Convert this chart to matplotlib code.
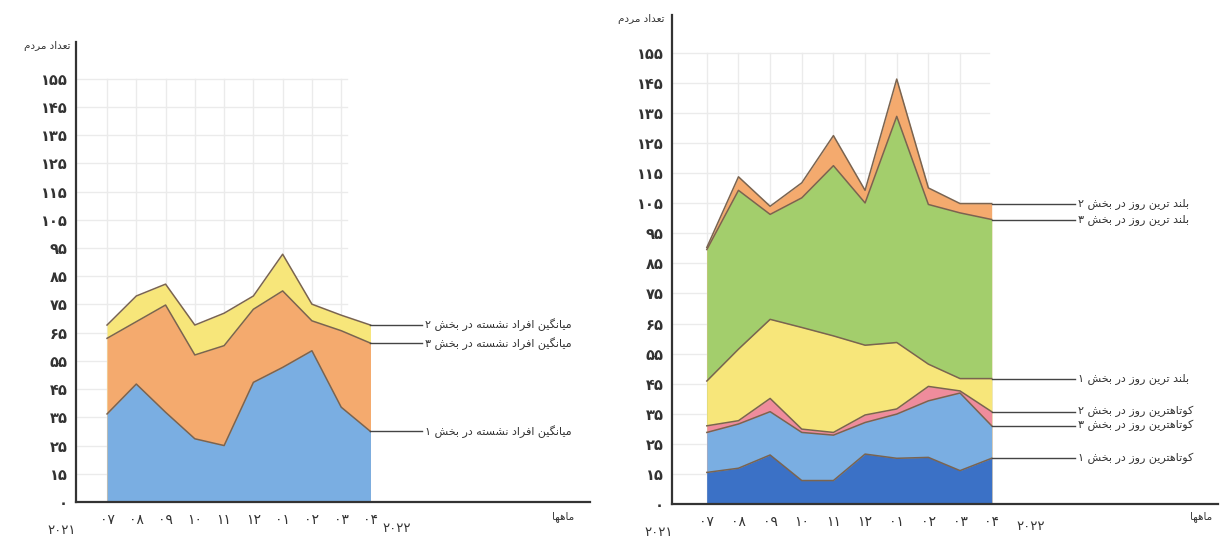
import matplotlib
matplotlib.use('Agg')
import matplotlib.pyplot as plt

# ---------------- data ----------------
months = ['۰۷', '۰۸', '۰۹', '۱۰', '۱۱', '۱۲', '۰۱', '۰۲', '۰۳', '۰۴']
y_ticks = [5, 15, 25, 35, 45, 55, 65, 75, 85, 95, 105, 115, 125, 135, 145, 155]
y_tick_labels = ['۰', '۱۵', '۲۵', '۳۵', '۴۵', '۵۵', '۶۵', '۷۵', '۸۵', '۹۵',
                 '۱۰۵', '۱۱۵', '۱۲۵', '۱۳۵', '۱۴۵', '۱۵۵']
year_start = '۲۰۲۱'
year_end = '۲۰۲۲'
y_title = 'تعداد مردم'
x_title = 'ماهها'

left_sec2 = [67.7, 78.0, 82.2, 67.7, 71.9, 78.0, 92.8, 75.1, 71.2, 67.7]
left_sec3 = [63.0, 68.9, 74.8, 57.1, 60.4, 73.3, 79.8, 69.2, 65.7, 61.3]
left_sec1 = [36.2, 46.8, 36.8, 27.4, 25.0, 47.4, 52.7, 58.6, 38.6, 30.0]
left_labels = ['میانگین افراد نشسته در بخش ۲',
               'میانگین افراد نشسته در بخش ۳',
               'میانگین افراد نشسته در بخش ۱']

right_long2 = [90.3, 113.8, 104.0, 111.8, 127.5, 109.3, 146.3, 110.1, 104.9, 104.9]
right_long3 = [89.6, 109.3, 101.3, 106.8, 117.5, 105.1, 133.9, 104.6, 101.8, 99.6]
right_long1 = [45.9, 56.5, 66.4, 63.7, 60.9, 57.8, 58.7, 51.5, 46.7, 46.7]
right_short2 = [31.0, 32.7, 40.1, 29.9, 28.8, 34.6, 36.6, 44.1, 42.6, 35.7]
right_short3 = [28.8, 31.6, 35.7, 28.8, 27.9, 32.1, 34.9, 39.3, 41.9, 31.0]
right_short1 = [15.5, 16.9, 21.3, 12.8, 12.8, 21.6, 20.2, 20.5, 16.1, 20.2]
right_labels = ['بلند ترین روز در بخش ۲',
                'بلند ترین روز در بخش ۳',
                'بلند ترین روز در بخش ۱',
                'کوتاهترین روز در بخش ۲',
                'کوتاهترین روز در بخش ۳',
                'کوتاهترین روز در بخش ۱']

# ---------------- simple Persian shaping (matplotlib has no complex text layout) --------
FORMS = {
    'ا': ('\uFE8D', '\uFE8E', None, None),
    'ب': ('\uFE8F', '\uFE90', '\uFE91', '\uFE92'),
    'ت': ('\uFE95', '\uFE96', '\uFE97', '\uFE98'),
    'خ': ('\uFEA5', '\uFEA6', '\uFEA7', '\uFEA8'),
    'د': ('\uFEA9', '\uFEAA', None, None),
    'ر': ('\uFEAD', '\uFEAE', None, None),
    'ز': ('\uFEAF', '\uFEB0', None, None),
    'س': ('\uFEB1', '\uFEB2', '\uFEB3', '\uFEB4'),
    'ش': ('\uFEB5', '\uFEB6', '\uFEB7', '\uFEB8'),
    'ع': ('\uFEC9', '\uFECA', '\uFECB', '\uFECC'),
    'ف': ('\uFED1', '\uFED2', '\uFED3', '\uFED4'),
    'ل': ('\uFEDD', '\uFEDE', '\uFEDF', '\uFEE0'),
    'م': ('\uFEE1', '\uFEE2', '\uFEE3', '\uFEE4'),
    'ن': ('\uFEE5', '\uFEE6', '\uFEE7', '\uFEE8'),
    'و': ('\uFEED', '\uFEEE', None, None),
    'ه': ('\uFEE9', '\uFEEA', '\uFEEB', '\uFEEC'),
    'ی': ('\uFBFC', '\uFBFD', '\uFBFE', '\uFBFF'),
    'ک': ('\uFB8E', '\uFB8F', '\uFB90', '\uFB91'),
    'گ': ('\uFB92', '\uFB93', '\uFB94', '\uFB95'),
}


def fa(text):
    out = []
    n = len(text)
    for i, c in enumerate(text):
        if c not in FORMS:
            out.append(c)
            continue
        f = FORMS[c]
        prev = text[i - 1] if i > 0 else ''
        nxt = text[i + 1] if i < n - 1 else ''
        pj = prev in FORMS and FORMS[prev][2] is not None
        nj = nxt in FORMS and f[2] is not None
        if pj and nj:
            out.append(f[3])
        elif pj:
            out.append(f[1])
        elif nj:
            out.append(f[2])
        else:
            out.append(f[0])
    return ''.join(out)[::-1]


plt.rcParams['font.family'] = ['DejaVu Sans']

C_YEL = '#f7e67a'
C_ORA = '#f4aa6e'
C_BLU = '#7aaee2'
C_GRN = '#a3ce6c'
C_PNK = '#ef8c9c'
C_DBL = '#3b71c6'
EDGE = '#7a6450'
GRID = '#ebebeb'
TXT = '#333333'

fig = plt.figure(figsize=(12.2, 5.42), dpi=100)

ax1 = fig.add_axes([76 / 1220, 40 / 542, (590 - 76) / 1220, (502 - 42) / 542])
ax2 = fig.add_axes([672 / 1220, 38 / 542, (1218 - 672) / 1220, (504 - 15) / 542])

x = list(range(len(months)))


def style(ax, xlim, ylim, grid_x_end):
    ax.set_xlim(*xlim)
    ax.set_ylim(*ylim)
    for s in ['top', 'right']:
        ax.spines[s].set_visible(False)
    for s in ['left', 'bottom']:
        ax.spines[s].set_color('#333333')
        ax.spines[s].set_linewidth(1.6)
    ax.set_yticks(y_ticks)
    ax.set_yticklabels(y_tick_labels, fontsize=10.5, color=TXT, fontweight='bold')
    ax.set_xticks(x)
    ax.set_xticklabels(months, fontsize=10, color=TXT)
    ax.tick_params(length=0, pad=6)
    ax.tick_params(axis='x', pad=8)
    for t in y_ticks[1:]:
        ax.plot([xlim[0], grid_x_end], [t, t], color=GRID, lw=1, zorder=0)
    for xi in x[:-1]:
        ax.plot([xi, xi], [ylim[0], 155], color=GRID, lw=1, zorder=0)


style(ax1, (-1.06, 16.5), (5, 168), 8.2)
style(ax2, (-1.1, 16.15), (5, 167.6), 8.9)


def area(ax, vals, color):
    ax.fill_between(x, 5, vals, color=color, lw=0, zorder=2)
    ax.plot(x, vals, color=EDGE, lw=1.1, zorder=3)


# left chart (back to front)
for vals, col in [(left_sec2, C_YEL), (left_sec3, C_ORA), (left_sec1, C_BLU)]:
    area(ax1, vals, col)

for vals, lab in zip([left_sec2, left_sec3, left_sec1], left_labels):
    ax1.plot([9, 10.77], [vals[-1], vals[-1]], color='#444444', lw=1, zorder=3,
             clip_on=False)
    ax1.text(10.85, vals[-1], fa(lab), fontsize=8, color=TXT, ha='left',
             va='center')

# right chart (back to front)
for vals, col in [(right_long2, C_ORA), (right_long3, C_GRN), (right_long1, C_YEL),
                  (right_short2, C_PNK), (right_short3, C_BLU), (right_short1, C_DBL)]:
    area(ax2, vals, col)

for vals, lab in zip([right_long2, right_long3, right_long1,
                      right_short2, right_short3, right_short1], right_labels):
    ax2.plot([9, 11.62], [vals[-1], vals[-1]], color='#444444', lw=1, zorder=3,
             clip_on=False)
    ax2.text(11.72, vals[-1], fa(lab), fontsize=8, color=TXT, ha='left',
             va='center')

# axis titles and years
fig.text(70 / 1220, 1 - 46 / 542, fa(y_title), fontsize=7.5, color=TXT,
         ha='right', va='center')
fig.text(664 / 1220, 1 - 19 / 542, fa(y_title), fontsize=7.5, color=TXT,
         ha='right', va='center')
fig.text(574 / 1220, 1 - 517 / 542, fa(x_title), fontsize=7.5, color=TXT,
         ha='right', va='center')
fig.text(1212 / 1220, 1 - 517 / 542, fa(x_title), fontsize=7.5, color=TXT,
         ha='right', va='center')
fig.text(62 / 1220, 1 - 531 / 542, year_start, fontsize=9.5, color=TXT,
         ha='center', va='center')
fig.text(397 / 1220, 1 - 528 / 542, year_end, fontsize=9.5, color=TXT,
         ha='center', va='center')
fig.text(659 / 1220, 1 - 532 / 542, year_start, fontsize=9.5, color=TXT,
         ha='center', va='center')
fig.text(1031 / 1220, 1 - 527 / 542, year_end, fontsize=9.5, color=TXT,
         ha='center', va='center')

fig.savefig('out.png', dpi=100, facecolor='white')
